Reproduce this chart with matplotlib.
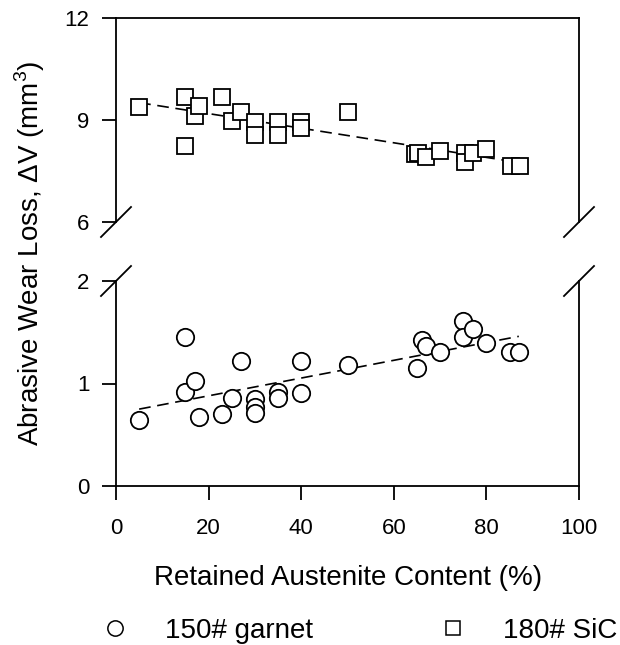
import matplotlib
matplotlib.use('Agg')
import matplotlib.pyplot as plt
from matplotlib.lines import Line2D

plt.rcParams['font.family'] = ['Liberation Sans', 'DejaVu Sans']
plt.rcParams['mathtext.fontset'] = 'custom'
plt.rcParams['mathtext.rm'] = 'Liberation Sans'

# 180# SiC (squares, upper panel)
sic_x = [5, 15, 15, 17, 18, 23, 25, 27, 30, 30, 35, 35, 40, 40, 50,
         64.5, 65.3, 67, 70, 75.4, 75.4, 77, 80, 85.4, 87.3]
sic_y = [9.37, 9.67, 8.24, 9.13, 9.42, 9.69, 8.97, 9.23, 8.95, 8.56, 8.95, 8.56, 8.93, 8.76, 9.23,
         7.99, 8.02, 7.92, 8.10, 8.04, 7.77, 8.04, 8.14, 7.65, 7.65]
sic_fit_x = [5, 87]
sic_fit_y = [9.51, 7.75]

# 150# garnet (circles, lower panel)
gar_x = [5, 15, 15, 17, 18, 23, 25, 27, 30, 30, 30, 35, 35, 40, 40, 50,
         65, 66, 67, 70, 75, 75, 77, 80, 85, 87]
gar_y = [0.64, 1.45, 0.92, 1.02, 0.67, 0.70, 0.86, 1.22, 0.85, 0.77, 0.71, 0.92, 0.86, 1.22, 0.91, 1.18,
         1.15, 1.42, 1.37, 1.31, 1.61, 1.45, 1.53, 1.40, 1.31, 1.31]
gar_fit_x = [5, 87]
gar_fit_y = [0.75, 1.46]

W, H = 620, 645
fig = plt.figure(figsize=(W / 100, H / 100), dpi=100)
L, R = 116 / W, 579 / W
ax_top = fig.add_axes([L, 1 - 222 / H, R - L, (222 - 18) / H])
ax_bot = fig.add_axes([L, 1 - 486 / H, R - L, (486 - 281) / H])

lw = 1.3
tick_fs = 16
text_fs = 20
for ax in (ax_top, ax_bot):
    for s in ax.spines.values():
        s.set_linewidth(lw)
    ax.set_xlim(0, 100)
    ax.tick_params(axis='both', direction='out', length=10, width=lw, labelsize=tick_fs)
    ax.tick_params(axis='y', pad=9)
    ax.tick_params(axis='x', pad=13)

ax_top.plot(sic_fit_x, sic_fit_y, ls=(0, (7, 4)), color='black', lw=1.2, zorder=2)
ax_top.plot(sic_x, sic_y, ls='none', marker='s', ms=12, mfc='white', mec='black', mew=1.3, zorder=3)
ax_top.set_ylim(6, 12)
ax_top.set_yticks([6, 9, 12])
ax_top.spines['bottom'].set_visible(False)
ax_top.tick_params(axis='x', bottom=False, labelbottom=False)

ax_bot.plot(gar_fit_x, gar_fit_y, ls=(0, (7, 4)), color='black', lw=1.2, zorder=2)
ax_bot.plot(gar_x, gar_y, ls='none', marker='o', ms=12.5, mfc='white', mec='black', mew=1.3, zorder=3)
ax_bot.set_ylim(0, 2)
ax_bot.set_yticks([0, 1, 2])
ax_bot.set_xticks([0, 20, 40, 60, 80, 100])
ax_bot.spines['top'].set_visible(False)

# break marks on the y axis
for px, py in [(116, 222), (579, 222), (116, 281), (579, 281)]:
    fig.add_artist(Line2D([(px - 15) / W, (px + 15) / W], [1 - (py + 15) / H, 1 - (py - 15) / H],
                          color='black', lw=lw, transform=fig.transFigure))

fig.text(348 / W, 1 - 585 / H, 'Retained Austenite Content (%)', ha='center', va='baseline',
         fontsize=text_fs)
fig.text(30 / W, 1 - 253 / H, r'Abrasive Wear Loss, $\Delta$V (mm$^3$)', rotation=90,
         ha='center', va='center', fontsize=text_fs)

handles = [Line2D([], [], ls='none', marker='o', ms=11, mfc='white', mec='black', mew=1.1),
           Line2D([], [], ls='none', marker='s', ms=10, mfc='white', mec='black', mew=1.1)]
fig.legend(handles, ['150# garnet', '180# SiC'], ncol=2, frameon=False, fontsize=text_fs,
           loc='center', bbox_to_anchor=(359 / W, 1 - 631 / H), borderpad=0,
           handlelength=1.0, handletextpad=1.3, columnspacing=4.53)

fig.savefig('out.png', dpi=100)
